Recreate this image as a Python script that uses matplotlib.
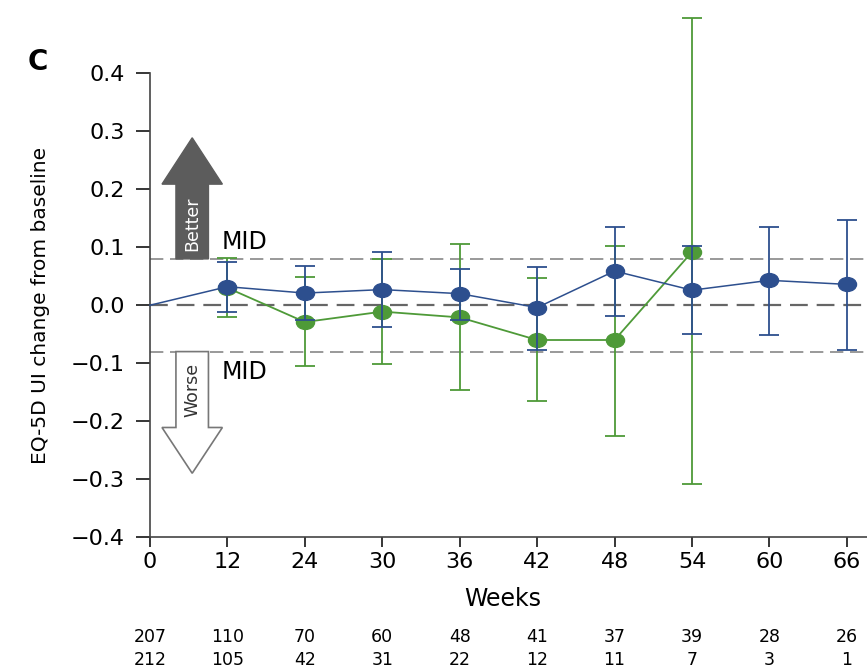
import matplotlib
matplotlib.use("Agg")
import matplotlib.pyplot as plt
from matplotlib.patches import Polygon
from matplotlib.path import Path
from matplotlib.transforms import Affine2D
import matplotlib.transforms as mtransforms

plt.rcParams['font.family'] = ['DejaVu Sans']

# Data
weeks = [0, 12, 24, 30, 36, 42, 48, 54, 60, 66]
blue_mean = [0.0, 0.032, 0.021, 0.027, 0.020, -0.004, 0.059, 0.026, 0.043, 0.036]
blue_upper = [None, 0.074, 0.067, 0.092, 0.063, 0.066, 0.135, 0.103, 0.135, 0.147]
blue_lower = [None, -0.011, -0.026, -0.037, -0.025, -0.078, -0.019, -0.050, -0.051, -0.078]

green_weeks = [12, 24, 30, 36, 42, 48, 54]
green_mean = [0.030, -0.029, -0.011, -0.021, -0.060, -0.060, 0.092]
green_upper = [0.081, 0.048, 0.079, 0.105, 0.047, 0.103, 0.495]
green_lower = [-0.021, -0.105, -0.102, -0.146, -0.166, -0.225, -0.309]

n_blue = [207, 110, 70, 60, 48, 41, 37, 39, 28, 26]
n_green = [212, 105, 42, 31, 22, 12, 11, 7, 3, 1]

MID = 0.08

blue = "#2d4f8e"
green = "#4e9a38"

# slightly wide oval marker, like the reference
oval = Path.unit_circle().transformed(Affine2D().scale(1.3, 1.0))

fig = plt.figure(figsize=(8.67, 6.71), dpi=100)
ax = fig.add_axes([0.173, 0.1997, 0.827, 0.6908])

pos = {w: i for i, w in enumerate(weeks)}
bx = [pos[w] for w in weeks]
gx = [pos[w] for w in green_weeks]

# reference lines
ax.axhline(0, color="#666666", lw=1.6, ls=(0, (8, 4)), zorder=1)
ax.axhline(MID, color="#888888", lw=1.2, ls=(0, (8, 4)), zorder=1)
ax.axhline(-MID, color="#888888", lw=1.2, ls=(0, (8, 4)), zorder=1)

# green series
g_err = [[m - lo for m, lo in zip(green_mean, green_lower)],
         [hi - m for m, hi in zip(green_mean, green_upper)]]
ax.errorbar(gx, green_mean, yerr=g_err, color=green, lw=1.3, elinewidth=1.3,
            capsize=7, capthick=1.3, marker=oval, markersize=13, clip_on=False, zorder=3)

# blue series: line from baseline, markers/errbars from week 12
ax.plot(bx, blue_mean, color=blue, lw=1.1, zorder=4, clip_on=False)
b_err = [[m - lo for m, lo in zip(blue_mean[1:], blue_lower[1:])],
         [hi - m for m, hi in zip(blue_mean[1:], blue_upper[1:])]]
ax.errorbar(bx[1:], blue_mean[1:], yerr=b_err, color=blue, lw=0, elinewidth=1.3,
            capsize=7, capthick=1.3, marker=oval, markersize=13, clip_on=False, zorder=5)

# Better / Worse arrows
cx, bw, hw = 0.545, 0.21, 0.39
better = [(cx - bw, MID), (cx + bw, MID), (cx + bw, 0.209), (cx + hw, 0.209),
          (cx, 0.289), (cx - hw, 0.209), (cx - bw, 0.209)]
worse = [(cx - bw, -MID), (cx + bw, -MID), (cx + bw, -0.211), (cx + hw, -0.211),
         (cx, -0.29), (cx - hw, -0.211), (cx - bw, -0.211)]
ax.add_patch(Polygon(better, closed=True, facecolor="#5c5c5c", edgecolor="#5c5c5c", lw=1, zorder=2))
ax.add_patch(Polygon(worse, closed=True, facecolor="white", edgecolor="#777777", lw=1.2, zorder=2))
ax.text(cx, 0.141, "Better", rotation=90, ha="center", va="center", color="white", fontsize=12.5, zorder=3)
ax.text(cx, -0.147, "Worse", rotation=90, ha="center", va="center", color="#333333", fontsize=12.5, zorder=3)

ax.text(0.93, 0.109, "MID", ha="left", va="center", fontsize=17)
ax.text(0.93, -0.116, "MID", ha="left", va="center", fontsize=17)

ax.set_ylim(-0.4, 0.4)
ax.set_xlim(0, 9.26)
ax.set_yticks([-0.4, -0.3, -0.2, -0.1, 0.0, 0.1, 0.2, 0.3, 0.4])
ax.set_yticklabels([f"{v:.1f}".replace("-", "\u2212") for v in ax.get_yticks()])
ax.set_xticks(bx)
ax.set_xticklabels([str(w) for w in weeks])
ax.tick_params(axis="y", direction="out", length=10, width=1.1, labelsize=16, pad=8)
ax.tick_params(axis="x", direction="out", length=7, width=1.1, labelsize=16, pad=4)

for s in ["top", "right"]:
    ax.spines[s].set_visible(False)
for s in ["left", "bottom"]:
    ax.spines[s].set_linewidth(1.2)
    ax.spines[s].set_color("#444444")

ax.set_ylabel("EQ-5D UI change from baseline", fontsize=14.5)
ax.yaxis.set_label_coords(-0.139, 0.5)
ax.set_xlabel("Weeks", fontsize=17)
ax.xaxis.set_label_coords(0.492, -0.108)

trans = mtransforms.blended_transform_factory(ax.transData, ax.transAxes)
for i, (a, b) in enumerate(zip(n_blue, n_green)):
    ax.text(i, -0.216, str(a), transform=trans, ha="center", va="center", fontsize=12.5, clip_on=False)
    ax.text(i, -0.265, str(b), transform=trans, ha="center", va="center", fontsize=12.5, clip_on=False)

fig.text(0.044, 0.907, "C", fontsize=20, fontweight="bold", ha="center", va="center")

fig.savefig("out.png", dpi=100)
